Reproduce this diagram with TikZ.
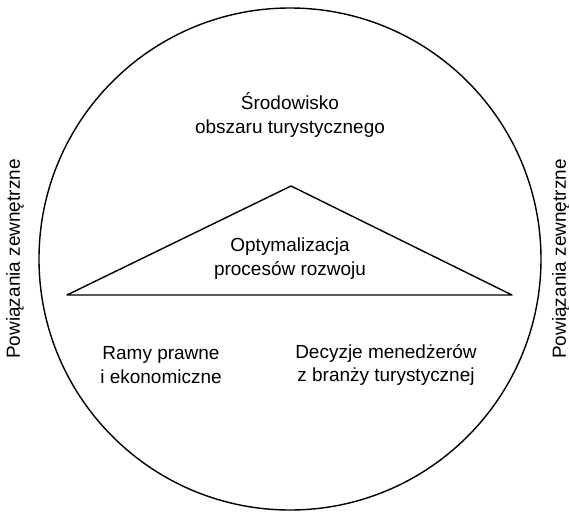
\documentclass[tikz,border=0pt]{standalone}
\usepackage{fontspec}
\setmainfont{Liberation Sans}
\tikzset{
  lbl/.style={align=center, font=\fontsize{10.8}{13.6}\selectfont, inner sep=0pt},
}
\begin{document}
\begin{tikzpicture}[x=0.02cm, y=0.02cm, line join=round, line cap=round, line width=0.8pt]
				\def\R{251}
				\useasboundingbox (-290,-256) rectangle (279,259);
				
				\draw (0,0) circle (\R);
				\coordinate (L) at (-223,-36);
				\coordinate (P) at (222,-36);
				\coordinate (T) at (1,73);
				\draw (L) -- (T) -- (P) -- cycle;
				
				\node[lbl] (env) at (0,144) {Środowisko\\obszaru turystycznego};
				\node[lbl] (opt) at (0,0) {Optymalizacja\\procesów rozwoju};
				\node[lbl] (law) at (-129,-106) {Ramy prawne\\i ekonomiczne};
				\node[lbl] (dec) at (96,-106) {Decyzje menedżerów\\z branży turystycznej};
				\node[lbl, rotate=90] (extL) at (-275,0) {Powiązania zewnętrzne};
				\node[lbl, rotate=90] (extR) at (271,0) {Powiązania zewnętrzne};
			\end{tikzpicture}
\end{document}
